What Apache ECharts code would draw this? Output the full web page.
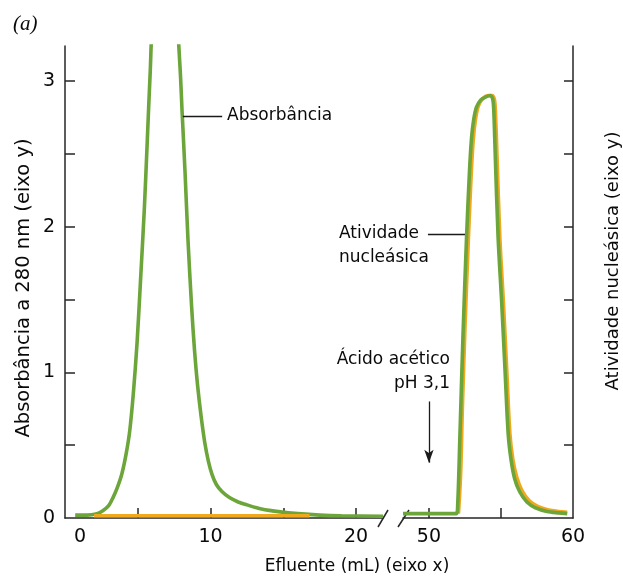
<!DOCTYPE html>
<html>
<head>
<meta charset="utf-8">
<script src="https://cdn.jsdelivr.net/npm/echarts@6/dist/echarts.min.js"></script>
<style>
html,body{margin:0;padding:0;background:#fff;}
#chart{width:623px;height:579px;}
</style>
</head>
<body>
<div id="chart"></div>
<script>
// ---- data ----
const absorbanceLeft = [
  [0.7,0.02],[1.5,0.02],[2.2,0.03],[2.6,0.05],[3.0,0.085],[3.3,0.14],[3.6,0.21],[3.9,0.3],
  [4.2,0.44],[4.45,0.6],[4.7,0.86],[4.95,1.2],[5.2,1.65],[5.45,2.12],[5.65,2.58],[5.85,3.05],
  [6.1,3.5],[6.9,3.8],[7.6,3.5],[7.9,3.1],[8.05,2.78],[8.25,2.37],[8.45,1.91],[8.7,1.45],
  [8.9,1.15],[9.1,0.92],[9.35,0.7],[9.6,0.52],[9.85,0.39],[10.1,0.3],[10.4,0.23],[10.8,0.18],
  [11.3,0.14],[11.9,0.11],[12.5,0.09],[13.5,0.062],[14.8,0.042],[16.0,0.03],[17.5,0.02],
  [19.0,0.015],[21.85,0.012]
];
const absorbanceRight = [
  [48.2,0.03],[51.9,0.03],[52.0,0.1],[52.15,0.56],[52.36,1.24],[52.6,1.9],[52.8,2.35],
  [52.95,2.6],[53.1,2.73],[53.3,2.82],[53.6,2.87],[53.95,2.89],[54.25,2.9],[54.42,2.88],
  [54.5,2.8],[54.6,2.5],[54.8,1.93],[55.05,1.48],[55.28,1.02],[55.5,0.58],[55.7,0.4],
  [55.95,0.27],[56.3,0.18],[56.8,0.11],[57.4,0.07],[58.2,0.045],[59.0,0.035],[59.6,0.03]
];
const nucleaseLeft = [[2.0,0.015],[9.0,0.015],[16.8,0.015]];
const nucleaseRight = [
  [52.05,0.03],[52.2,0.3],[52.32,0.75],[52.5,1.3],[52.74,1.92],[52.94,2.37],[53.08,2.6],
  [53.24,2.74],[53.44,2.83],[53.74,2.88],[54.08,2.9],[54.38,2.9],[54.55,2.87],[54.62,2.78],
  [54.72,2.5],[54.92,1.93],[55.17,1.48],[55.4,1.02],[55.62,0.58],[55.83,0.4],[56.1,0.28],
  [56.45,0.19],[56.95,0.12],[57.55,0.08],[58.3,0.055],[59.0,0.045],[59.6,0.04]
];
const xTicksLeft = [5,10,15,20];
const xLabelsLeft = [0,10,20];
const xTicksRight = [50,55];
const xLabelsRight = [50,60];
const yTicks = [0.5,1,1.5,2,2.5,3];
const yLabels = [0,1,2,3];
const absLeader = [[8.1,2.76],[10.8,2.76]];
const nucLeader = [[49.93,1.95],[52.5,1.95]];
const acidArrow = [[50,0.8],[50,0.38]];

// ---- style ----
const GREEN = '#6ca53a';
const ORANGE = '#f0a81c';
const AXIS = '#262626';
const TXT = '#0a0a0a';
const FONT = 'DejaVu Sans';

const axisLineStyle = {color: AXIS, width: 1.5};
function xAxisCfg(idx, min, max, ticks, labels) {
  return {
    type: 'value', gridIndex: idx, min: min, max: max,
    axisLine: {show: true, onZero: false, lineStyle: axisLineStyle},
    axisTick: {show: true, inside: true, length: 10, customValues: ticks, lineStyle: axisLineStyle},
    axisLabel: {
      show: true, customValues: labels, margin: 10, color: TXT, fontFamily: FONT, fontSize: 19,
      formatter: v => v === 0 ? '{z|0}' : String(v),
      rich: {z: {padding: [0,0,0,30], fontFamily: FONT, fontSize: 19, color: TXT}}
    },
    splitLine: {show: false}
  };
}
function yAxisCfg(idx, pos, showLabels) {
  return {
    type: 'value', gridIndex: idx, position: pos, min: 0, max: 3.24,
    axisLine: {show: true, onZero: false, lineStyle: axisLineStyle},
    axisTick: {show: true, inside: true, length: pos === 'left' ? 10 : 9, customValues: yTicks, lineStyle: axisLineStyle},
    axisLabel: {show: showLabels, customValues: yLabels, margin: 10, color: TXT, fontFamily: FONT, fontSize: 19},
    splitLine: {show: false}
  };
}
const leaderStyle = {color: '#1a1a1a', width: 1.3, type: 'solid'};

const chart = echarts.init(document.getElementById('chart'), null, {renderer: 'canvas'});
chart.setOption({
  animation: false,
  backgroundColor: '#fff',
  grid: [
    {left: 65, top: 46, width: 318, height: 472},
    {left: 403, top: 46, width: 170, height: 472}
  ],
  xAxis: [
    xAxisCfg(0, 0, 21.85, xTicksLeft, xLabelsLeft),
    xAxisCfg(1, 48.2, 60, xTicksRight, xLabelsRight)
  ],
  yAxis: [
    yAxisCfg(0, 'left', true),
    yAxisCfg(1, 'right', false)
  ],
  series: [
    {
      name: 'Absorbância', type: 'line', xAxisIndex: 0, yAxisIndex: 0,
      data: absorbanceLeft, smooth: 0.3, showSymbol: false, clip: true,
      lineStyle: {color: GREEN, width: 3.6}, itemStyle: {color: GREEN},
      markLine: {
        silent: true, symbol: ['none','none'], label: {show: false},
        lineStyle: leaderStyle,
        data: [[{coord: absLeader[0]}, {coord: absLeader[1]}]]
      }
    },
    {
      name: 'Atividade nucleásica', type: 'line', xAxisIndex: 0, yAxisIndex: 0,
      data: nucleaseLeft, showSymbol: false,
      lineStyle: {color: ORANGE, width: 3.6}, itemStyle: {color: ORANGE}
    },
    {
      name: 'Atividade nucleásica ', type: 'line', xAxisIndex: 1, yAxisIndex: 1,
      data: nucleaseRight, smooth: 0.3, showSymbol: false,
      lineStyle: {color: ORANGE, width: 3.6}, itemStyle: {color: ORANGE}
    },
    {
      name: 'Absorbância ', type: 'line', xAxisIndex: 1, yAxisIndex: 1,
      data: absorbanceRight, smooth: 0.3, showSymbol: false,
      lineStyle: {color: GREEN, width: 3.6}, itemStyle: {color: GREEN},
      markLine: {
        silent: true, label: {show: false}, symbol: ['none','none'],
        lineStyle: leaderStyle,
        data: [
          [{coord: nucLeader[0]}, {coord: nucLeader[1]}],
          [{coord: acidArrow[0], symbol: 'none'}, {coord: acidArrow[1], symbol: 'arrow', symbolSize: [7, 13]}]
        ]
      }
    }
  ],
  graphic: [
    {type: 'text', left: 13, top: 14, style: {text: '(a)', font: 'italic 21px "Liberation Serif"', fill: TXT}},
    {type: 'text', x: 227, y: 116, style: {text: 'Absorbância', font: '17px "DejaVu Sans"', fill: TXT, verticalAlign: 'middle', align: 'left'}},
    {type: 'text', x: 339, y: 234, style: {text: 'Atividade', font: '17px "DejaVu Sans"', fill: TXT, verticalAlign: 'middle', align: 'left'}},
    {type: 'text', x: 339, y: 258, style: {text: 'nucleásica', font: '17px "DejaVu Sans"', fill: TXT, verticalAlign: 'middle', align: 'left'}},
    {type: 'text', x: 450, y: 360, style: {text: 'Ácido acético', font: '17px "DejaVu Sans"', fill: TXT, verticalAlign: 'middle', align: 'right'}},
    {type: 'text', x: 450, y: 384, style: {text: 'pH 3,1', font: '17px "DejaVu Sans"', fill: TXT, verticalAlign: 'middle', align: 'right'}},
    {type: 'text', x: 357, y: 567, style: {text: 'Efluente (mL) (eixo x)', font: '17px "DejaVu Sans"', fill: TXT, verticalAlign: 'middle', align: 'center'}},
    {type: 'text', x: 24, y: 288, rotation: Math.PI/2, style: {text: 'Absorbância a 280 nm (eixo y)', font: '19.5px "DejaVu Sans"', fill: TXT, verticalAlign: 'middle', align: 'center'}},
    {type: 'text', x: 613, y: 261, rotation: Math.PI/2, style: {text: 'Atividade nucleásica (eixo y)', font: '18px "DejaVu Sans"', fill: TXT, verticalAlign: 'middle', align: 'center'}},
    {type: 'line', shape: {x1: 378, y1: 527, x2: 388, y2: 510}, style: {stroke: AXIS, lineWidth: 1.5}},
    {type: 'line', shape: {x1: 398, y1: 527, x2: 409, y2: 510}, style: {stroke: AXIS, lineWidth: 1.5}}
  ]
});
</script>
</body>
</html>
